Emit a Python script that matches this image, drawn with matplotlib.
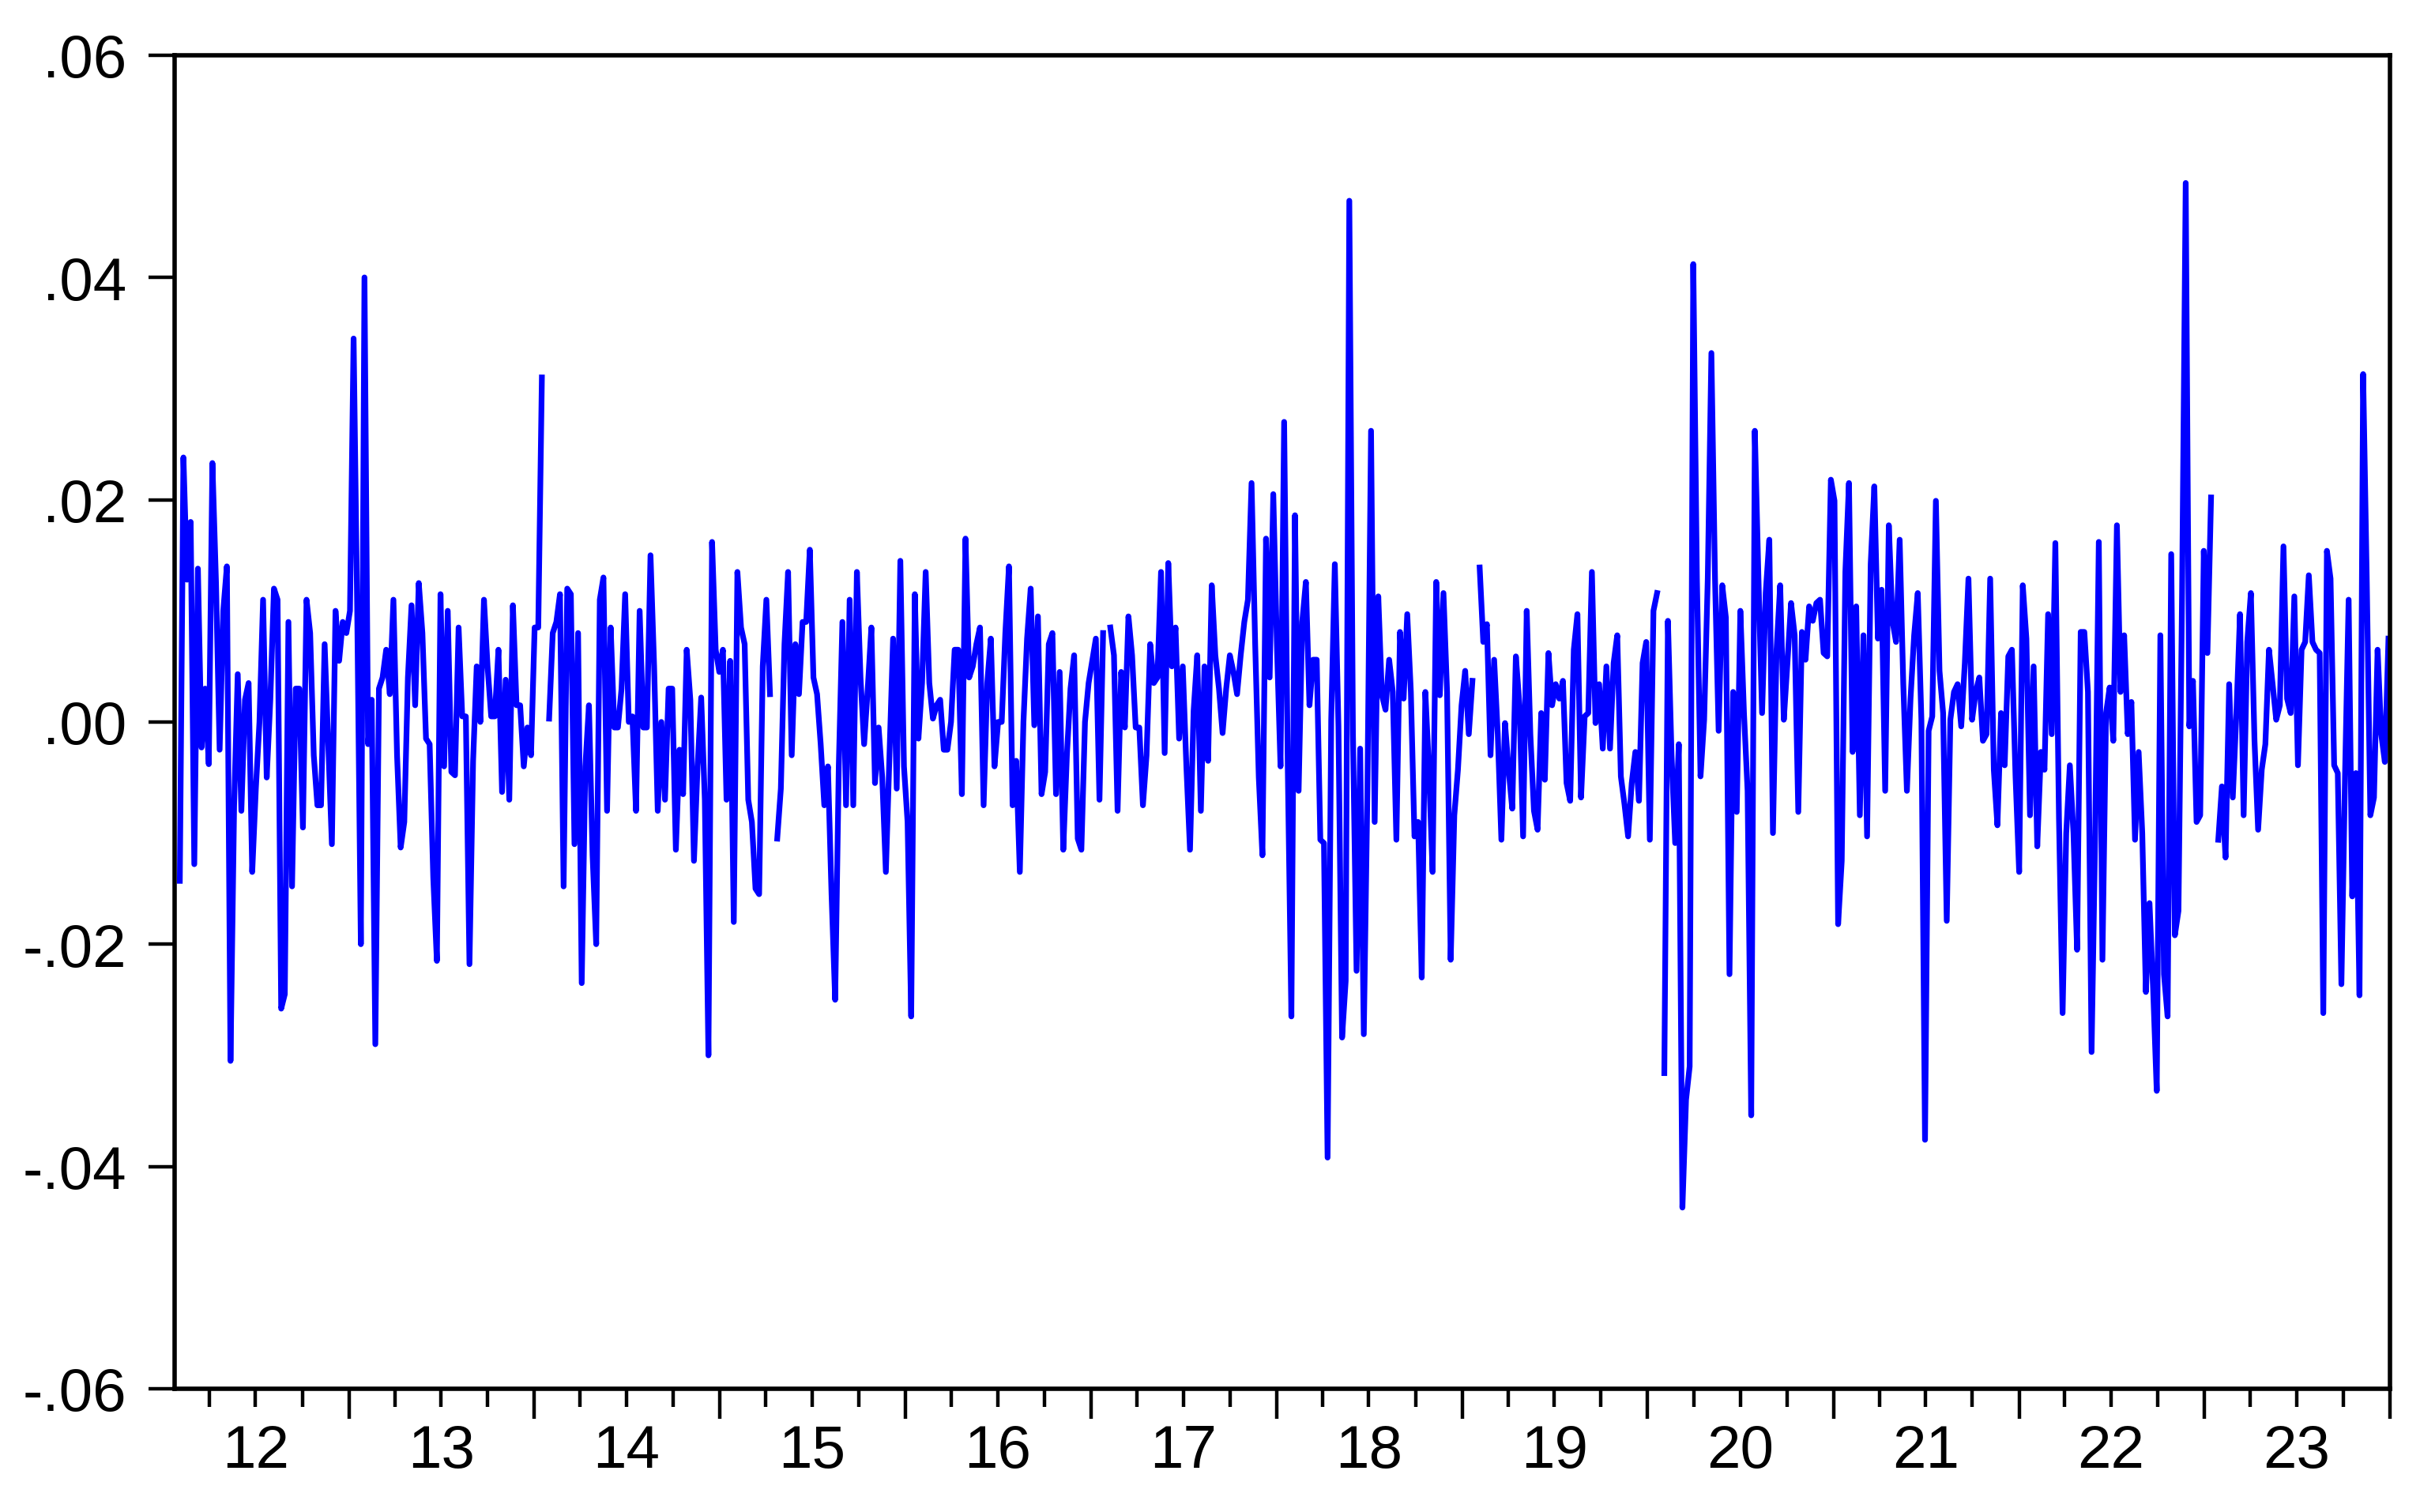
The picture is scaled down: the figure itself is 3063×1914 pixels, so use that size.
import numpy as np
import pandas as pd
import matplotlib
matplotlib.use("Agg")
import matplotlib.pyplot as plt
import matplotlib.dates as mdates
from matplotlib.ticker import FixedLocator, FuncFormatter

nan = np.nan

# weekly returns (units of 0.001), NaN = missing week
returns_2012_13 = [
    -14.3, 23.8, 12.8, 18, -12.8, 13.8, -2.3, 3, -3.8, 23.3, 12.5, -2.5, 10, 14, -30.5, -7.5,
    4.3, -8, 2, 3.5, -13.5, -6, 0, 11, -5, 2, 12, 11, -25.8, -24.5, 9, -14.8, 3, 3, -9.5, 11,
    8, -3, -7.5, -7.5, 7, -2, -11, 10, 5.5, 9, 8, 10, 34.5, 10, -20, 40, -2, 2, -29, 3, 4, 6.5,
    2.5, 11, -3, -11.3, -9, 4, 10.5, 1.5, 12.5, 8, -1.5, -2, -14, -21.5, 11.5, -4, 10, -4.5,
    -4.8, 8.5, 0.5, 0.5, -21.8, -3.5, 5, 0, 11, 5, 0.5, 0.5, 6.5, -6.3, 3.8, -7, 10.5, 1.5,
    1.5, -4, -0.5, -3, 8.5, 8.5, 31, nan,
]
returns_2013_15 = [
    0.3, 8, 9, 11.5, -14.8, 12, 11.5, -11, 8, -23.5, -4, 1.5, -12, -20, 11, 13, -8, 8.5, -0.5,
    -0.5, 3, 11.5, 0, 0.5, -8, 10, -0.5, -0.5, 15, 5, -8, 0, -7, 3, 3, -11.5, -2.5, -6.5, 6.5,
    2, -12.5, -4, 2.2, -7, -30, 16.2, 6.5, 4.5, 6.5, -7, 5.5, -18, 13.5, 8.5, 7, -7, -9, -15,
    -15.5, 5, 11, 2.5, nan, -10.5, -6, 7, 13.5, -3, 7, 2.5, 9, 9, 15.5, 4, 2.5, -2, -7.5, -4,
    -15.5, -25, -4, 9, -7.5, 11, -7.5, 13.5, 4, -2, 3, 8.5, -5.5, -0.5, -5, -13.5, -3, 7.5, -6,
    14.5, -4, -9, -26.5, 11.5, -1.5,
]
returns_2015_17 = [
    3.5, 13.5, 3.5, 0.3, 1.5, 2, -2.5, -2.5, 0, 6.5, 6.5, -6.5, 16.5, 4, 5, 7, 8.5, -7.5, 3.5,
    7.5, -4, 0, 0, 8, 14, -7.5, -3.5, -13.5, 0, 7.5, 12, -0.3, 9.5, -6.5, -4.5, 7, 8, -6.5,
    4.5, -11.5, -3, 3, 6, -10.5, -11.5, 0, 3.5, 5.5, 7.5, -7, 8, nan, 8.5, 6, -8, 4.5, -0.5,
    9.5, 6, -0.5, -0.5, -7.5, -3, 7, 3.5, 4, 13.5, -2.8, 14.3, 5, 8.5, -1.5, 5, -4, -11.5, 1,
    6, -8, 5, -3.5, 12.3, 6, 3, -1, 3, 6, 4.5, 2.5, 6, 9, 11, 21.5, 7, -5, -12, 16.5, 4, 20.5,
    7, -4, 27, -4, -26.5,
]
returns_2017_19 = [
    18.6, -6.2, 9, 12.6, 1.5, 5.6, 5.6, -10.6, -10.9, -39.2, 0.2, 14.2, -0.4, -28.4, -23.3,
    46.9, -1, -22.4, -2.4, -28.1, -6.2, 26.2, -9, 11.3, 2.4, 1.1, 5.6, 2.7, -10.6, 8.1, 2.1,
    9.7, 2.7, -10.3, -9, -23, 2.7, -4.3, -13.5, 12.6, 2.4, 11.6, 2.7, -21.4, -8.4, -4.3, 1.5,
    4.6, -1.1, 3.7, nan, 13.9, 7.2, 8.8, -3, 5.6, -1.1, -10.6, -0.1, -4.3, -7.8, 5.9, 1.5,
    -10.3, 10, -1.1, -8, -9.7, 0.8, -5.2, 6.2, 1.5, 3.4, 2.1, 3.7, -5.5, -7.1, 6.5, 9.7, -6.8,
    0.5, 0.8, 13.5, -0.1, 3.4, -2.4, 5, -2.4, 5.3, 7.8, -4.9, -7.4, -10.3, -5.5, -2.7, -7.1,
    5.3, 7.2, -10.6, 10, 11.6, nan, -31.6, 9.1, -3, -10.9, -2,
]
returns_2020_21 = [
    -43.7, -34, -31, 41.2, 12.9, -4.9, 0.2, 12.9, 33.2, 12.9, -0.8, 12.3, 9.4, -22.7, 2.7,
    -8.1, 10, 0.8, -6.2, -35.4, 26.2, 12.9, 0.8, 11.6, 16.4, -10, 6.5, 12.3, 0.2, 5.3, 10.7,
    7.8, -8.1, 8.1, 5.6, 10.4, 9.1, 10.7, 11, 6.2, 5.9, 21.8, 19.9, -18.2, -12.5, 13.5, 21.5,
    -2.7, 10.4, -8.4, 7.8, -10.3, 14.2, 21.2, 7.5, 11.9, -6.2, 17.7, 9.1, 7.2, 16.4, 3.4, -6.2,
    2.1, 7.8, 11.6, 0.2, -37.6, -0.8, 0.5, 19.9, 4.6, 0.8, -17.9, 0.2, 2.7, 3.4, -0.4, 5.3,
    12.9, 0.2, 2.7, 4, -1.7, -1.1, 12.9, -4.3, -9.3, 0.8, -3.9, 5.9, 6.5, -4.9, -13.5, 12.3,
    7.5, -8.4, 5, -11.2, -2.7,
]
returns_2022_23 = [
    -4.3, 9.7, -1.1, 16.1, -8.7, -26.2, -10, -3.9, -10, -20.5, 8.1, 8.1, 2.7, -29.7, -10, 16.2,
    -21.4, 0.8, 3.1, -1.7, 17.7, 2.7, 7.8, -1.1, 1.8, -10.6, -2.7, -10, -24.3, -16.3, -24,
    -33.2, 7.8, -22.7, -26.5, 15.1, -19.2, -17, 11.6, 48.5, -0.4, 3.7, -9, -8.4, 15.4, 6.2,
    20.2, nan, -10.6, -5.8, -12.2, 3.4, -6.8, 0.8, 9.7, -8.4, 7.2, 11.6, -1.7, -9.7, -4.3, -2,
    6.5, 3.4, 0.2, 1.5, 15.8, 2.1, 0.8, 11.3, -3.9, 6.5, 7.2, 13.2, 7.2, 6.5, 6.2, -26.2, 15.4,
    12.9, -3.9, -4.6, -23.6, -4.9, 11, -15.7, -4.6, -24.6, 31.3, 12.9, -8.4, -6.8, 6.5, -1.1,
    -3.6, 7.5,
]

first_obs = "2012-02-03"
last_obs = "2023-12-29"
y_ticks = [-0.06, -0.04, -0.02, 0.0, 0.02, 0.04, 0.06]

values = np.array(returns_2012_13 + returns_2013_15 + returns_2015_17
                  + returns_2017_19 + returns_2020_21 + returns_2022_23) / 1000.0
dates = pd.date_range(first_obs, last_obs, periods=len(values))
series = pd.Series(values, index=dates)

plt.rcParams["font.family"] = ["Liberation Sans", "DejaVu Sans"]

fig = plt.figure(figsize=(15.315, 9.575), dpi=200)
ax = fig.add_axes([0.0722, 0.0815, 0.9154, 0.8815])

ax.plot(series.index, series.values, color="#0000FF", lw=2.6)

ax.set_xlim(pd.Timestamp("2012-01-24"), pd.Timestamp("2024-01-01"))
ax.set_ylim(-0.06, 0.06)

# years on the boundaries, quarters as minor ticks, year label under July
years = pd.date_range("2013-01-01", "2024-01-01", freq="YS")
quarters = [d for d in pd.date_range("2012-04-01", "2023-10-01", freq="QS") if d.month != 1]
ax.xaxis.set_major_locator(FixedLocator(mdates.date2num(years)))
ax.xaxis.set_minor_locator(FixedLocator(mdates.date2num(quarters)))
ax.xaxis.set_major_formatter(FuncFormatter(lambda v, p: ""))


def year_label(v, p):
    d = mdates.num2date(v)
    return d.strftime("%y") if d.month == 7 else ""


ax.xaxis.set_minor_formatter(FuncFormatter(year_label))

ax.set_yticks(y_ticks)


def y_label(v, p):
    s = f"{v:.2f}"
    if s == "-0.00":
        s = "0.00"
    return s.replace("0.", ".", 1)


ax.yaxis.set_major_formatter(FuncFormatter(y_label))

ax.tick_params(axis="x", which="major", direction="out", length=13.7, width=1.6,
               bottom=True, top=False)
ax.tick_params(axis="x", which="minor", direction="out", length=8.3, width=1.6,
               labelsize=27.5, pad=7.5, bottom=True, top=False)
ax.tick_params(axis="y", which="major", direction="out", length=12, width=1.6,
               labelsize=27.5, pad=10, left=True, right=False)

for sp in ax.spines.values():
    sp.set_linewidth(2.0)

fig.savefig("out.png", dpi=200)
